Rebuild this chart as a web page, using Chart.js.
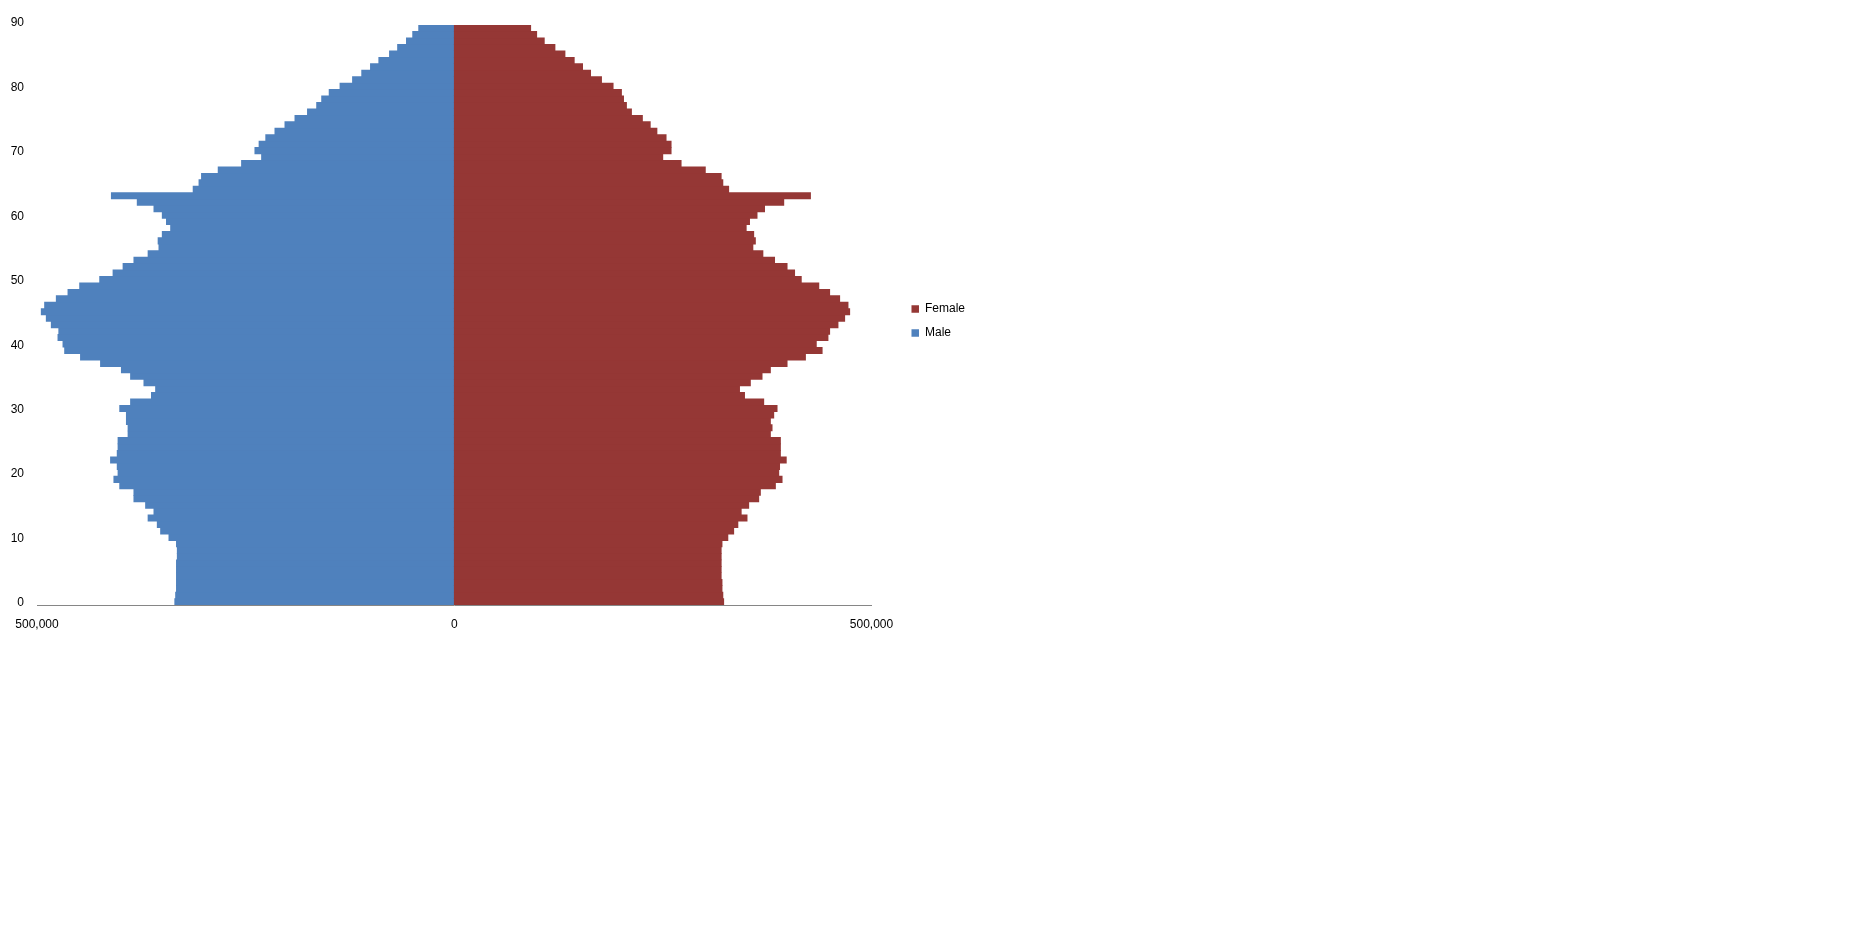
<!DOCTYPE html>
<html lang="en">
<head>
    <meta charset="UTF-8">
    <title>Population pyramid</title>
    <script src="https://cdn.jsdelivr.net/npm/chart.js"></script>
    <style>
        body {
            margin: 0;
            background: #fff;
        }

        .chart-box {
            position: absolute;
            left: 0;
            top: 0;
            width: 975px;
            height: 642px;
        }
    </style>
</head>
<body>
    <div class="chart-box"><canvas id="pyramid"></canvas></div>

    <script>
        // Age groups, one bar each (0 at the bottom)
        const ages = [
            0, 1, 2, 3, 4, 5, 6, 7, 8, 9,
            10, 11, 12, 13, 14, 15, 16, 17, 18, 19,
            20, 21, 22, 23, 24, 25, 26, 27, 28, 29,
            30, 31, 32, 33, 34, 35, 36, 37, 38, 39,
            40, 41, 42, 43, 44, 45, 46, 47, 48, 49,
            50, 51, 52, 53, 54, 55, 56, 57, 58, 59,
            60, 61, 62, 63, 64, 65, 66, 67, 68, 69,
            70, 71, 72, 73, 74, 75, 76, 77, 78, 79,
            80, 81, 82, 83, 84, 85, 86, 87, 88, 89
        ];

        const male = [
            335000, 334000, 333000, 333000, 333000, 333000, 333000, 332000, 332000, 333000,
            342000, 352000, 356000, 367000, 360000, 370000, 384000, 384000, 401000, 408000,
            403000, 404000, 412000, 404000, 403000, 403000, 391000, 391000, 393000, 393000,
            401000, 388000, 363000, 358000, 372000, 388000, 399000, 424000, 448000, 467000,
            469000, 475000, 474000, 483000, 489000, 495000, 491000, 477000, 463000, 449000,
            425000, 409000, 397000, 384000, 367000, 354000, 355000, 350000, 340000, 345000,
            350000, 360000, 380000, 411000, 313000, 306000, 303000, 283000, 255000, 231000,
            239000, 234000, 226000, 215000, 203000, 191000, 176000, 165000, 159000, 150000,
            137000, 122000, 111000, 100500, 90500, 77700, 68000, 57400, 49900, 42700
        ];

        const female = [
            323000, 322000, 321000, 321000, 320000, 320000, 320000, 320000, 320000, 321000,
            328000, 335000, 340000, 351000, 344000, 353000, 365000, 367000, 385000, 393000,
            389000, 390000, 398000, 391000, 391000, 391000, 379000, 381000, 379000, 383000,
            387000, 371000, 348000, 342000, 355000, 369000, 379000, 399000, 421000, 441000,
            434000, 448000, 450000, 460000, 468000, 474000, 472000, 462000, 450000, 437000,
            416000, 408000, 399000, 384000, 370000, 358000, 361000, 359000, 350000, 354000,
            363000, 372000, 395000, 427000, 329000, 322000, 320000, 301000, 272000, 250000,
            260000, 260000, 254000, 243000, 235000, 225600, 212500, 206500, 203000, 200500,
            190500, 176600, 163500, 153900, 143900, 132800, 120800, 108000, 98900, 91700
        ];

        const ageTicks = [0, 10, 20, 30, 40, 50, 60, 70, 80, 90];
        const popTicks = [-500000, 0, 500000];

        Chart.defaults.font.family = "'Liberation Sans', Arial, sans-serif";
        Chart.defaults.font.size = 12;
        Chart.defaults.color = '#000';

        // each bar sits in the middle of its one-year band
        const femaleData = ages.map((a, i) => ({ x: female[i], y: a + 0.5 }));
        const maleData = ages.map((a, i) => ({ x: -male[i], y: a + 0.5 }));

        // empty axes used only as spacers around the plot
        const spacer = (size, horizontal) => ({
            type: 'linear',
            display: true,
            ticks: { display: false },
            grid: { display: false, drawTicks: false },
            border: { display: false },
            afterFit: (scale) => {
                if (horizontal) scale.height = size;
                else scale.width = size;
            }
        });

        new Chart(document.getElementById('pyramid'), {
            type: 'bar',
            data: {
                datasets: [
                    {
                        label: 'Female',
                        data: femaleData,
                        backgroundColor: '#953735',
                        borderWidth: 0,
                        xAxisID: 'x',
                        yAxisID: 'y'
                    },
                    {
                        label: 'Male',
                        data: maleData,
                        backgroundColor: '#4F81BD',
                        borderWidth: 0,
                        xAxisID: 'x',
                        yAxisID: 'y'
                    }
                ]
            },
            options: {
                indexAxis: 'y',
                responsive: true,
                maintainAspectRatio: false,
                animation: false,
                barPercentage: 1,
                categoryPercentage: 1,
                plugins: {
                    legend: {
                        position: 'right',
                        align: 'center',
                        labels: {
                            boxWidth: 7.5,
                            boxHeight: 7.5,
                            padding: 12,
                            color: '#000'
                        }
                    },
                    tooltip: { enabled: false }
                },
                scales: {
                    x: {
                        type: 'linear',
                        position: 'bottom',
                        stacked: true,
                        offset: false,
                        min: -500000,
                        max: 500000,
                        afterBuildTicks: (scale) => {
                            scale.ticks = popTicks.map(v => ({ value: v }));
                        },
                        ticks: {
                            padding: 12,
                            maxRotation: 0,
                            autoSkip: false,
                            callback: (v) => Math.abs(v).toLocaleString('en-US')
                        },
                        grid: { display: false, drawTicks: false },
                        border: { display: true, color: '#868686', width: 1 },
                        afterFit: (scale) => { scale.height = 37; }
                    },
                    y: {
                        type: 'linear',
                        position: 'left',
                        stacked: true,
                        offset: false,
                        min: 0,
                        max: 90,
                        afterBuildTicks: (scale) => {
                            scale.ticks = ageTicks.map(v => ({ value: v }));
                        },
                        ticks: { padding: 13, autoSkip: false, labelOffset: -2 },
                        grid: { display: false, drawTicks: false, offset: false },
                        border: { display: false },
                        afterFit: (scale) => { scale.width = 37; }
                    },
                    xTop: Object.assign(spacer(25, true), { position: 'top' }),
                    yRight: Object.assign(spacer(28, false), { position: 'right' })
                }
            }
        });
    </script>
</body>
</html>
